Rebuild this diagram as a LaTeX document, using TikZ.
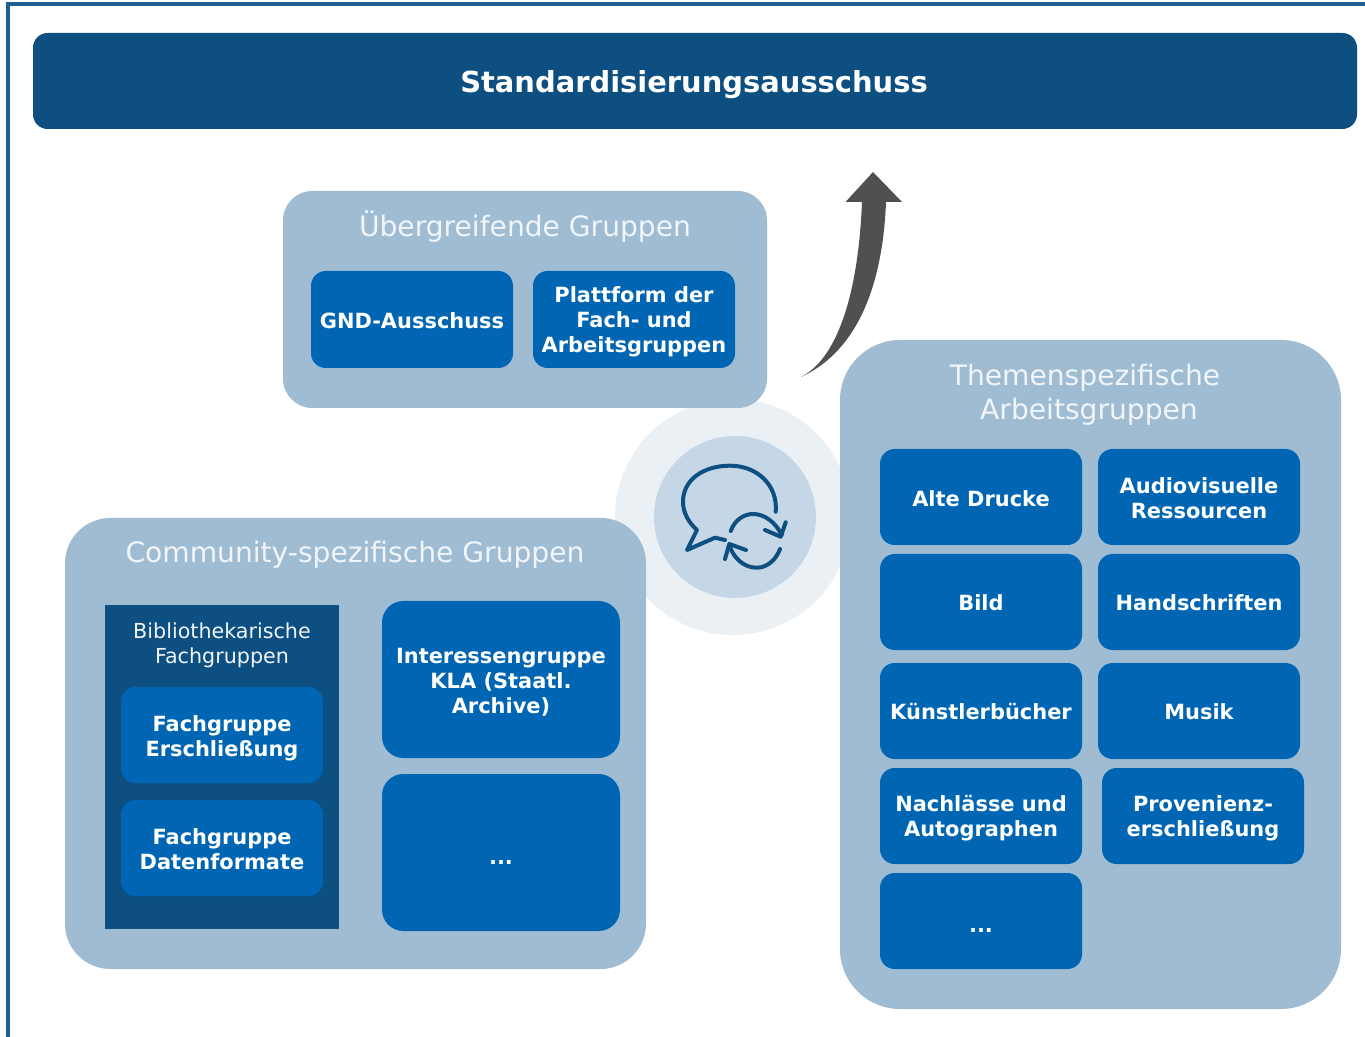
\documentclass[tikz,border=0pt]{standalone}
\usepackage{fontspec}
\setmainfont{DejaVu Sans}
\definecolor{dark}{HTML}{0C4F80}
\definecolor{blue}{HTML}{0066B3}
\definecolor{grp}{HTML}{A0BCD3}
\definecolor{halo}{HTML}{EBF0F5}
\definecolor{disc}{HTML}{C5D7E6}
\definecolor{frame}{HTML}{1F5F8F}
\definecolor{headtxt}{HTML}{F0F5F9}
\definecolor{arrowgrey}{HTML}{505050}
\newcommand{\fnt}[2]{\fontsize{#1}{#2}\selectfont}
\tikzset{
  box/.style n args={2}{minimum width=#1*0.75pt, minimum height=#2*0.75pt, inner sep=0pt, align=center},
  blueb/.style={fill=blue, rounded corners=11pt},
  bluebig/.style={fill=blue, rounded corners=16pt},
  lab/.style={inner sep=0pt, align=center, text=white, font=\fnt{15.7}{18.75}\bfseries},
  group/.style={fill=grp},
  head/.style={text=headtxt, inner sep=0pt, align=center, font=\fnt{21.1}{25.5}},
  icon/.style={draw=dark, line width=3pt, line cap=round, line join=round},
}
\begin{document}
\begin{tikzpicture}[x=0.75pt,y=-0.75pt]
\useasboundingbox (0,0) rectangle (1365,1037);
\fill[white] (0,0) rectangle (1365,1037);
% frame
\coordinate (fa) at (8,1037);
\coordinate (fb) at (8,4);
\coordinate (fc) at (1365,4);
\draw[frame, line width=2.4pt] (fa) -- (fb) -- (fc);
% top bar
\node[box={1324}{96}, fill=dark, rounded corners=11pt] (top) at (695,81) {};
\node[inner sep=0pt, text=white, font=\fnt{21.7}{28}\bfseries] (topt) at (694,85) {Standardisierungsausschuss};
% halo and disc
\node[circle, fill=halo, minimum size=177pt, inner sep=0pt] (halo) at (733,517) {};
% groups
\node[box={484}{217}, group, rounded corners=22pt] (over) at (525,299.5) {};
\node[box={581}{451}, group, rounded corners=34pt] (comm) at (355.5,743.5) {};
\node[box={501}{669}, group, rounded corners=45pt] (them) at (1090.5,674.5) {};
\node[circle, fill=disc, minimum size=121.5pt, inner sep=0pt] (disc) at (735,517) {};
% headers
\node[head] (overh) at (525,227) {Übergreifende Gruppen};
\node[head] (commh) at (355,555) {Community-spezifische Gruppen};
\node[head] (themh) at (1085,394.5) {Themenspezifische\\\hspace*{6pt}Arbeitsgruppen};
% overarching boxes
\node[box={202}{97}, blueb] (gnd) at (412,319.5) {};
\node[lab] (gndt) at (412,320.5) {GND-Ausschuss};
\node[box={202}{97}, blueb] (platt) at (634,319.5) {};
\node[lab] (plattt) at (634,322) {Plattform der\\Fach- und\\Arbeitsgruppen};
% community
\node[box={234}{324}, fill=dark] (bib) at (222,767) {};
\node[inner sep=0pt, align=center, text=headtxt, font=\fnt{15.5}{18.75}] (bibh) at (222,645) {Bibliothekarische\\Fachgruppen};
\node[box={202}{96}, blueb] (fers) at (222,735) {};
\node[lab] (ferst) at (222,738) {Fachgruppe\\Erschließung};
\node[box={202}{96}, blueb] (fdat) at (222,848) {};
\node[lab] (fdatt) at (222,849) {Fachgruppe\\Datenformate};
\node[box={238}{157}, bluebig] (kla) at (501,679.5) {};
\node[lab] (klat) at (501,682.5) {Interessengruppe\\KLA (Staatl.\\Archive)};
\node[box={238}{157}, bluebig] (cdots) at (501,852.5) {};
\node[lab] (cdotst) at (501,863) {...};
% theme boxes
\node[box={202}{96}, blueb] (alte) at (981,497) {};
\node[lab] (altet) at (981,499) {Alte Drucke};
\node[box={202}{96}, blueb] (audio) at (1199,497) {};
\node[lab] (audiot) at (1199,498.5) {Audiovisuelle\\Ressourcen};
\node[box={202}{96}, blueb] (bild) at (981,602) {};
\node[lab] (bildt) at (981,603) {Bild};
\node[box={202}{96}, blueb] (hand) at (1199,602) {};
\node[lab] (handt) at (1199,603) {Handschriften};
\node[box={202}{96}, blueb] (kuen) at (981,711) {};
\node[lab] (kuent) at (981,711.5) {Künstlerbücher};
\node[box={202}{96}, blueb] (musik) at (1199,711) {};
\node[lab] (musikt) at (1199,712) {Musik};
\node[box={202}{96}, blueb] (nach) at (981,816) {};
\node[lab] (nacht) at (981,818.5) {Nachlässe und\\Autographen};
\node[box={202}{96}, blueb] (prov) at (1203,816) {};
\node[lab] (provt) at (1203,818.5) {Provenienz-\\erschließung};
\node[box={202}{96}, blueb] (tdots) at (981,921) {};
\node[lab] (tdotst) at (981,931) {...};
% large curved arrow
\fill[arrowgrey] (873,172) -- (902,202) -- (886,202)
  .. controls (883,280) and (860,350) .. (801,377)
  .. controls (835,360) and (858,300) .. (862,202)
  -- (845.5,202) -- cycle;
% icon
\draw[icon] (775.7,511.7) .. controls (778,485) and (757,465.7) .. (730,465.7)
  .. controls (703,465.7) and (683,480) .. (683,501.7)
  .. controls (683,513) and (689,523) .. (697,530)
  -- (687,550) -- (715,537.7) -- (725,540);
\draw[icon] (730.7,531) .. controls (735,519) and (745,514) .. (753,514)
  .. controls (765,514) and (776,523) .. (781.7,535);
\draw[icon] (785.7,522.3) -- (780.7,536.7) -- (765,530);
\draw[icon] (780,549) .. controls (776,560) and (767,567.7) .. (756.7,567.7)
  .. controls (743,567.7) and (733,557) .. (729.3,545);
\draw[icon] (746,550) -- (729.3,544) -- (725,559);
\end{tikzpicture}
\end{document}
